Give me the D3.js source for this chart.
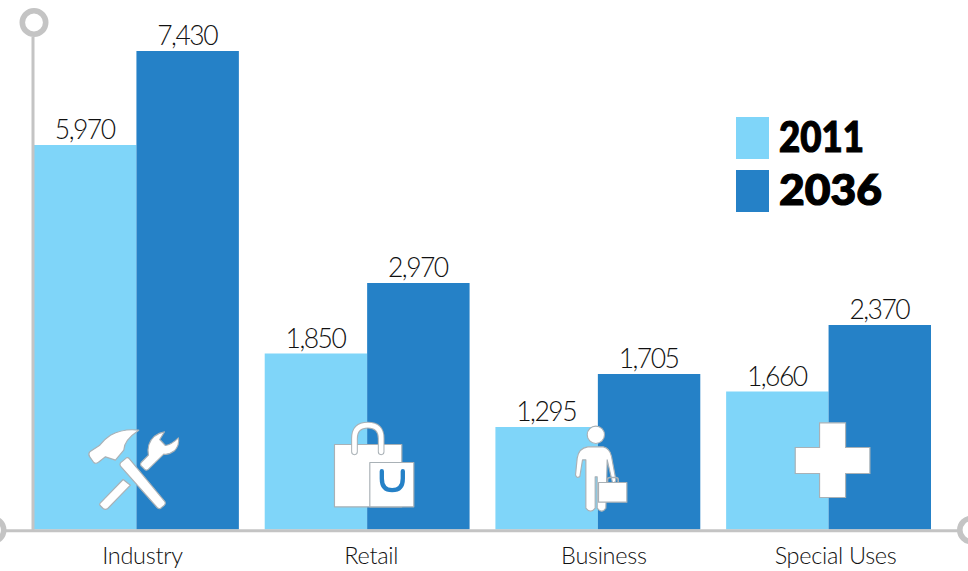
<!DOCTYPE html>
<html><head><meta charset="utf-8">
<script src="https://cdn.jsdelivr.net/npm/d3@7"></script>
<style>html,body{margin:0;background:#fff}svg{display:block}</style></head>
<body><div id="c"></div>
<script>
const categories = ["Industry","Retail","Business","Special Uses"];
const years = ["2011","2036"];
const values2011 = [5970,1850,1295,1660];
const values2036 = [7430,2970,1705,2370];
const colors = ["#7fd5f9","#2581c7"];
// The source bars are not drawn to one linear scale: these stops reproduce its height for each value.
const valueStops = [0,1295,1660,1705,1850,2370,2970,5970,7430];
const heightStops = [0,102.5,138,155.5,176,204.5,246.5,384.5,478.5];
const labelNudge = [6,4,6,7];

const W=968,H=571,baseY=529.5,left=34,right=931;
const svg=d3.select("#c").append("svg").attr("width",W).attr("height",H);
const x0=d3.scaleBand().domain(categories).range([left,right]).paddingInner(0.112);
const x1=d3.scaleBand().domain(years).range([0,x0.bandwidth()]);
const y=d3.scaleLinear().domain(valueStops).range(heightStops.map(h=>baseY-h));
const color=d3.scaleOrdinal().domain(years).range(colors);
const seriesByYear={"2011":values2011,"2036":values2036};

const rows=categories.flatMap((c,i)=>years.map(yr=>({c,yr,v:seriesByYear[yr][i]})));
svg.append("g").selectAll("rect").data(rows).join("rect")
  .attr("x",d=>x0(d.c)+x1(d.yr)).attr("width",x1.bandwidth())
  .attr("y",d=>y(d.v)).attr("height",d=>baseY-y(d.v)).attr("fill",d=>color(d.yr));
svg.append("g").selectAll("text").data(rows).join("text")
  .attr("x",d=>x0(d.c)+x1(d.yr)+x1.bandwidth()/2-0.5).attr("y",d=>y(d.v)-6)
  .attr("text-anchor","middle").attr("font-family","Lato").attr("font-weight",300)
  .attr("font-size",26.5).attr("letter-spacing",-1.5).attr("fill","#111")
  .text(d=>d3.format(",")(d.v));

// axis frame
const axisColor="#c4c4c4";
const frame=svg.append("g").attr("fill","none").attr("stroke",axisColor);
frame.append("line").attr("x1",33).attr("x2",33).attr("y1",37).attr("y2",531).attr("stroke-width",3);
frame.append("line").attr("x1",6).attr("x2",958).attr("y1",530.8).attr("y2",530.8).attr("stroke-width",3);
[[34,22.5],[-8,530],[971.5,530]].forEach(([cx,cy])=>frame.append("circle").attr("cx",cx).attr("cy",cy).attr("r",11.7).attr("stroke-width",5.6).attr("fill","#fff"));

// category axis
const axis=svg.append("g").attr("transform",`translate(0,${baseY})`)
  .call(d3.axisBottom(x0).tickSize(0).tickPadding(14));
axis.select(".domain").remove();
axis.selectAll("text").attr("font-family","Lato").attr("font-weight",300)
  .attr("font-size",23.5).attr("letter-spacing",-0.3).attr("fill","#111").attr("dy",0)
  .attr("y",34).attr("dx",(d,i)=>labelNudge[i]);

// icons, drawn around each group's centre on the baseline
const iconStroke="#a9b1b6";
function icon(i,ox,oy){
  const cx=x0(categories[i])+x0.bandwidth()/2;
  return svg.append("g").attr("transform",`translate(${cx},${baseY}) scale(${1/3}) translate(${-ox},${-oy})`)
    .attr("fill","#fff").attr("stroke",iconStroke).attr("stroke-width",3.5).attr("stroke-linejoin","round");
}
const g0=icon(0,228,388);
g0.append("path").attr("d","M235 90 Q190 84 150 105 Q130 118 118 135 L88 155 Q82 162 88 170 L100 187 Q107 192 114 186 L135 170 L165 180 L190 150 Q190 120 235 90Z");
g0.append("path").attr("d","M180 188 L198 173 Q203 171 207 176 L314 305 Q316 311 312 315 L300 325 Q295 327 290 322 L180 198 Q177 193 180 188Z");
g0.append("path").attr("d","M120 308 L188 238 L210 255 L142 325 Q135 330 128 325 L119 316 Q116 312 120 308Z");
g0.append("path").attr("d","M242 187 L264 165 Q258 130 282 108 Q296 97 312 95 L298 118 L315 136 Q332 134 354 113 Q358 135 342 152 Q325 165 310 162 L262 209 Q256 212 252 207 L241 196 Q239 191 242 187Z");

const g1=icon(1,168,358);
g1.append("rect").attr("x",70).attr("y",103).attr("width",202).attr("height",187);
const handle="M130 125 V85 Q130 45 170 45 Q210 45 210 85 V125";
g1.append("path").attr("d",handle).attr("fill","none").attr("stroke-width",20).attr("stroke-linecap","round");
g1.append("path").attr("d",handle).attr("fill","none").attr("stroke","#fff").attr("stroke-width",14).attr("stroke-linecap","round");
g1.append("rect").attr("x",176).attr("y",157).attr("width",132).attr("height",133);
g1.append("path").attr("d","M212 183 V205 Q212 240 243 240 Q275 240 275 205 V183").attr("fill","none").attr("stroke",colors[1]).attr("stroke-width",13).attr("stroke-linecap","round");

const g2=icon(2,114,344);
g2.append("circle").attr("cx",108).attr("cy",60).attr("r",26);
g2.append("path").attr("d","M84 96 H130 Q150 100 155 125 L168 195 Q168 204 158 204 L142 135 L138 280 Q126 298 112 280 V186 H106 V280 Q92 298 78 280 V135 L68 135 L60 185 Q50 192 47 180 L52 130 Q56 100 84 96Z");
g2.append("path").attr("d","M143 203 V195 Q143 188 150 188 H168 Q175 188 175 195 V203").attr("fill","none").attr("stroke-width",5);
g2.append("rect").attr("x",116).attr("y",203).attr("width",85).attr("height",59);

const g3=icon(3,144,358);
g3.append("path").attr("d","M117 38 H195 V112 H268 V190 H195 V262 H117 V190 H44 V112 H117Z").attr("stroke-linejoin","miter");

// legend
const legend=svg.append("g");
years.forEach((yr,i)=>{
  legend.append("rect").attr("x",736).attr("y",117+i*53).attr("width",33).attr("height",42).attr("fill",color(yr));
  legend.append("text").attr("x",779).attr("y",152+i*53)
    .attr("font-family","Lato").attr("font-weight",900).attr("font-size",42)
    .attr("stroke","#000").attr("stroke-width",1.2).attr("fill","#000")
    .attr("textLength",i?103:85).attr("lengthAdjust","spacingAndGlyphs").text(yr);
});
</script></body></html>
